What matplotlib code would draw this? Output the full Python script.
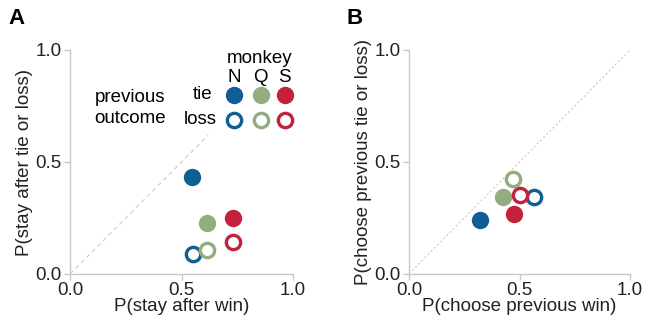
import matplotlib.pyplot as plt

plt.rcParams['font.family'] = ['Liberation Sans', 'DejaVu Sans']

monkeys = ['N', 'Q', 'S']
colors = ['#0f5f94', '#93ad80', '#c4213b']

# panel A: stay probabilities
a_win_tie = [0.549, 0.615, 0.731]
a_tie = [0.435, 0.229, 0.251]
a_win_loss = [0.552, 0.615, 0.731]
a_loss = [0.088, 0.107, 0.141]

# panel B: choose previous
b_win_tie = [0.322, 0.426, 0.476]
b_tie = [0.240, 0.344, 0.269]
b_win_loss = [0.566, 0.470, 0.500]
b_loss = [0.345, 0.424, 0.354]

fig = plt.figure(figsize=(6.46, 3.23), dpi=100)
axA = fig.add_axes([70/646, 1 - 274/323, 223/646, 224/323])
axB = fig.add_axes([409/646, 1 - 274/323, 221/646, 224/323])

ms = 12.5
ms_open = 10.3
mew = 2.4
fs = 13.5


def style(ax, xlabel, ylabel):
    ax.set_xlim(0, 1)
    ax.set_ylim(0, 1)
    for s in ['top', 'right']:
        ax.spines[s].set_visible(False)
    for s in ['left', 'bottom']:
        ax.spines[s].set_color('#c8c8c8')
        ax.spines[s].set_linewidth(1)
    ax.set_xticks([0, 0.5, 1.0])
    ax.set_yticks([0, 0.5, 1.0])
    ax.set_xticklabels(['0.0', '0.5', '1.0'])
    ax.set_yticklabels(['0.0', '0.5', '1.0'])
    ax.tick_params(colors='#c8c8c8', labelcolor='#222222', labelsize=fs, length=4, width=1, pad=2)
    ax.set_xlabel(xlabel, fontsize=fs, color='#222222', labelpad=-1)
    ax.set_ylabel(ylabel, fontsize=fs, color='#222222', labelpad=2)


style(axA, 'P(stay after win)', 'P(stay after tie or loss)')
style(axB, 'P(choose previous win)', 'P(choose previous tie or loss)')

axA.plot([0, 0.62], [0, 0.62], ls=(0, (4, 3)), color='#cccccc', lw=0.8, zorder=1)
axB.plot([0, 1], [0, 1], ls=(0, (2, 2)), color='#cccccc', lw=0.8, zorder=1)

for ax, wt, t, wl, l in [(axA, a_win_tie, a_tie, a_win_loss, a_loss),
                         (axB, b_win_tie, b_tie, b_win_loss, b_loss)]:
    for i in range(3):
        ax.plot(wt[i], t[i], 'o', ms=ms, color=colors[i], mec='none', clip_on=False, zorder=3)
        ax.plot(wl[i], l[i], 'o', ms=ms_open, mfc='white', mec=colors[i], mew=mew, clip_on=False, zorder=4)

# legend drawn inside panel A
leg_x = [0.736, 0.855, 0.963]
axA.text(0.85, 0.963, 'monkey', ha='center', va='center', fontsize=fs)
for i in range(3):
    axA.text(leg_x[i], 0.878, monkeys[i], ha='center', va='center', fontsize=fs)
    axA.plot(leg_x[i], 0.80, 'o', ms=ms, color=colors[i], mec='none', clip_on=False)
    axA.plot(leg_x[i], 0.6875, 'o', ms=ms_open, mfc='white', mec=colors[i], mew=mew, clip_on=False)
axA.text(0.64, 0.80, 'tie', ha='right', va='center', fontsize=fs)
axA.text(0.657, 0.69, 'loss', ha='right', va='center', fontsize=fs)
axA.text(0.27, 0.79, 'previous', ha='center', va='center', fontsize=fs)
axA.text(0.27, 0.695, 'outcome', ha='center', va='center', fontsize=fs)

fig.text(8/646, 1 - 18/323, 'A', fontsize=16, fontweight='bold', va='center')
fig.text(346/646, 1 - 18/323, 'B', fontsize=16, fontweight='bold', va='center')

fig.savefig('out.png', dpi=100)
